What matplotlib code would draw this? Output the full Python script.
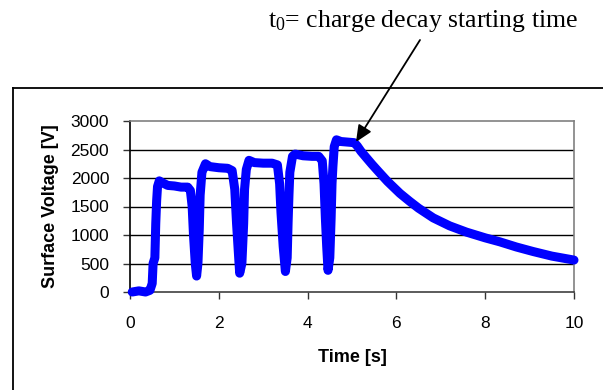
import matplotlib
matplotlib.use("Agg")
import matplotlib.pyplot as plt
from matplotlib.lines import Line2D

time_s = [0.05, 0.2, 0.35, 0.45, 0.5, 0.52, 0.56, 0.58, 0.6, 0.62, 0.66, 0.72, 0.85, 1.0, 1.15, 1.3,
          1.36, 1.4, 1.43, 1.47, 1.5, 1.53, 1.56, 1.58, 1.62, 1.7, 1.8, 2.0, 2.2, 2.3,
          2.36, 2.4, 2.44, 2.47, 2.52, 2.56, 2.58, 2.62, 2.68, 2.8, 3.0, 3.2, 3.32,
          3.37, 3.4, 3.45, 3.5, 3.54, 3.56, 3.58, 3.6, 3.66, 3.72, 3.9, 4.1, 4.25, 4.33,
          4.37, 4.4, 4.43, 4.46, 4.5, 4.53, 4.55, 4.57, 4.6, 4.65, 4.75, 4.9, 5.05,
          5.12, 5.2, 5.33, 5.45, 5.6, 5.8, 6.08, 6.3, 6.5, 6.83, 7.2, 7.58, 8.0, 8.33, 8.7,
          9.08, 9.5, 10.0]
voltage_v = [0, 20, 0, 30, 150, 500, 600, 1200, 1600, 1850, 1950, 1920, 1870, 1860, 1840, 1840,
             1780, 1500, 1000, 500, 280, 500, 1100, 1700, 2100, 2250, 2200, 2180, 2170, 2130,
             1800, 1200, 700, 330, 500, 1200, 1800, 2150, 2310, 2270, 2260, 2260, 2230,
             1900, 1400, 800, 360, 600, 1200, 1700, 2100, 2380, 2420, 2390, 2380, 2380, 2300,
             1900, 1300, 800, 380, 600, 1300, 1900, 2200, 2550, 2670, 2640, 2630, 2620,
             2560, 2470, 2350, 2240, 2110, 1940, 1730, 1590, 1470, 1300, 1160, 1050, 950, 880,
             790, 710, 630, 560]

x_ticks = [0, 2, 4, 6, 8, 10]
y_ticks = [0, 500, 1000, 1500, 2000, 2500, 3000]

plt.rcParams['font.family'] = ['Liberation Sans', 'DejaVu Sans']
plt.rcParams['mathtext.fontset'] = 'custom'
plt.rcParams['mathtext.rm'] = 'Liberation Serif'
plt.rcParams['mathtext.it'] = 'Liberation Serif:italic'
plt.rcParams['mathtext.bf'] = 'Liberation Serif:bold'

W, H = 603, 390
fig = plt.figure(figsize=(W / 100, H / 100), dpi=100)
ax = fig.add_axes([130 / W, 1 - 292 / H, (574 - 130) / W, (292 - 121) / H])

ax.plot(time_s, voltage_v, color='#0000ff', lw=6.5, solid_joinstyle='round',
        solid_capstyle='round', zorder=3, clip_on=False)

ax.set_xlim(0, 10)
ax.set_ylim(0, 3000)
ax.set_xticks(x_ticks)
ax.set_yticks(y_ticks)
ax.tick_params(axis='both', labelsize=12.5, direction='out', length=5, width=1, color='#333333')
ax.tick_params(axis='x', pad=12)
ax.tick_params(axis='y', pad=10)
for y in y_ticks[1:-1]:
    ax.axhline(y, color='black', lw=1, zorder=1)
ax.spines['top'].set_color('#808080')
ax.spines['right'].set_color('#808080')
ax.spines['left'].set_color('black')
ax.spines['bottom'].set_color('#404040')
for s in ax.spines.values():
    s.set_linewidth(1.2)

ax.set_xlabel('Time [s]', fontsize=13, fontweight='bold', labelpad=13)
ax.set_ylabel('Surface Voltage [V]', fontsize=13, fontweight='bold', labelpad=8)

# outer frame (extends beyond figure edges)
fig.add_artist(Line2D([13 / W, 13 / W], [0, 1 - 88 / H], color='black', lw=1.3))
fig.add_artist(Line2D([13 / W, 1], [1 - 88 / H, 1 - 88 / H], color='black', lw=1.3))

# annotation
fig.text(268 / W, 1 - 27 / H, r't$_\mathrm{0}$= charge decay starting time', family='Liberation Serif',
         fontsize=18.5, ha='left', va='baseline')
ax.annotate('', xy=(356 / W, 1 - 142 / H), xycoords='figure fraction',
            xytext=(420 / W, 1 - 40 / H), textcoords='figure fraction',
            arrowprops=dict(arrowstyle='-|>,head_length=1.0,head_width=0.45', color='black',
                            lw=1.3, shrinkA=0, shrinkB=0), annotation_clip=False)

fig.savefig('out.png', dpi=100)
